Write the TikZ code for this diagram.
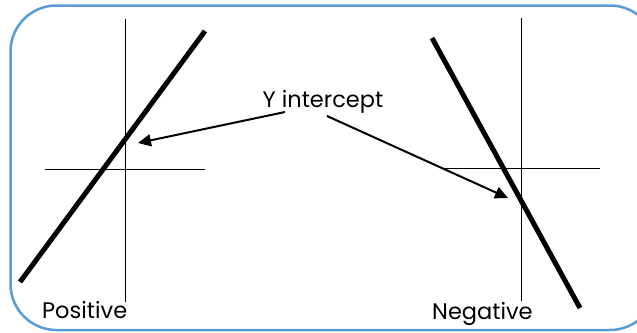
\documentclass[tikz,border=0pt]{standalone}
\usepackage{fontspec}
\setmainfont{Poppins}
\usetikzlibrary{arrows.meta}
\definecolor{frameblue}{RGB}{91,155,213}
\tikzset{
  axis/.style={draw=black, line width=1pt},
  graphline/.style={draw=black, line width=5pt},
  pointer/.style={draw=black, line width=2pt, -{Triangle[length=13pt,width=12pt]}},
  caption/.style={font=\fontsize{22.5}{24}\selectfont, inner sep=0pt, text=black}
}
\begin{document}
\begin{tikzpicture}[x=1pt,y=-1pt]
  \useasboundingbox (0,0) rectangle (637,332);
  % rounded frame, its right side running past the page edge
  \begin{scope}
    \clip (0,0) rectangle (637,332);
    \draw[frameblue, line width=2.5pt, rounded corners=46pt] (10.5,5.5) rectangle (656,330);
  \end{scope}

  % left axes and rising line
  \coordinate (lyTop) at (125,19);
  \coordinate (lyBot) at (125,302);
  \coordinate (lxL) at (45,169);
  \coordinate (lxR) at (205,169);
  \draw[axis] (lyTop) -- (lyBot);
  \draw[axis] (lxL) -- (lxR);
  \coordinate (posA) at (20,282);
  \coordinate (posB) at (205,31);
  \draw[graphline] (posA) -- (posB);

  % right axes and falling line
  \coordinate (ryTop) at (521,18);
  \coordinate (ryBot) at (521,301);
  \coordinate (rxL) at (443,168);
  \coordinate (rxR) at (600,168);
  \draw[axis] (ryTop) -- (ryBot);
  \draw[axis] (rxL) -- (rxR);
  \coordinate (negA) at (432,38);
  \coordinate (negB) at (580,308);
  \draw[graphline] (negA) -- (negB);

  % labels
  \node[caption, anchor=base west] (pos) at (42,318) {Positive};
  \node[caption, anchor=base west] (neg) at (432,319) {Negative};
  \node[caption, anchor=base] (yint) at (323,107) {Y intercept};

  % pointers to the intercepts
  \coordinate (leftStart) at (285,112);
  \coordinate (leftTip) at (138,143);
  \coordinate (rightStart) at (327,116);
  \coordinate (rightTip) at (508,198);
  \draw[pointer] (leftStart) -- (leftTip);
  \draw[pointer] (rightStart) -- (rightTip);
\end{tikzpicture}
\end{document}
